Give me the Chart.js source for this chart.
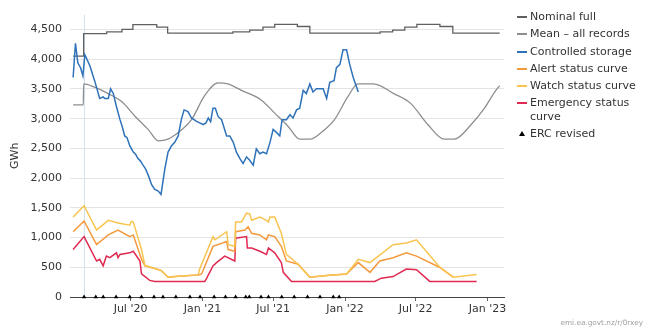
<!DOCTYPE html>
<html><head><meta charset="utf-8">
<script src="https://cdn.jsdelivr.net/npm/chart.js@4.4.1/dist/chart.umd.min.js"></script>
<style>
html,body{margin:0;padding:0;background:#fff;}
#wrap{position:relative;width:650px;height:327px;font-family:"DejaVu Sans",sans-serif;overflow:hidden;}
#c{position:absolute;left:0;top:0;}
#legend{position:absolute;left:517px;top:10px;width:130px;font-size:11px;line-height:13.4px;color:#333;}
.item{display:flex;align-items:flex-start;margin-bottom:3.9px;}
.mk{width:10px;flex:none;height:13.4px;position:relative;margin-right:3px;}
.mk span{position:absolute;left:0;right:0;top:6px;height:2px;}
.mk .tri{left:2px;right:auto;top:4px;height:0;width:0;border-left:3px solid transparent;border-right:3px solid transparent;border-bottom:5px solid #000;}
#src{position:absolute;right:7px;top:318px;font-size:7.3px;color:#a0a0a0;}
</style></head>
<body>
<div id="wrap">
<canvas id="c" width="650" height="327"></canvas>
<div id="legend"></div>
<div id="src">emi.ea.govt.nz/r/0rxey</div>
</div>
<script>
// ---- axis ----
const xMin = '2020-01-28';
const xMax = '2023-02-12';
const tickDates = ['2020-07-01','2021-01-01','2021-07-01','2022-01-01','2022-07-01','2023-01-01'];
const tickLabels = ["Jul '20","Jan '21","Jul '21","Jan '22","Jul '22","Jan '23"];
const yTicks = [0,500,1000,1500,2000,2500,3000,3500,4000,4500];
const plotLineDate = '2020-03-03';

// ---- Nominal full ----
const nominalDates = ['2020-02-05','2020-03-03','2020-05-01','2020-06-09','2020-07-07','2020-09-06','2020-10-04','2021-03-20','2021-05-02','2021-06-05','2021-07-05','2021-09-01','2021-10-03','2022-04-01','2022-05-03','2022-06-03','2022-07-04','2022-09-01','2022-10-04','2023-02-01'];
const nominalGWh = [4050,4430,4460,4500,4580,4540,4440,4460,4490,4540,4585,4550,4440,4460,4490,4540,4585,4550,4440,4440];

// ---- Mean - all records ----
const meanDates = ['2020-02-05','2020-03-02','2020-03-03','2020-03-31','2020-05-05','2020-06-09','2020-07-13','2020-08-15','2020-09-10','2020-10-05','2020-10-31','2020-12-04','2021-01-07','2021-02-10','2021-03-07','2021-04-11','2021-06-01','2021-07-05','2021-08-08','2021-09-07','2021-10-04','2021-11-01','2021-12-05','2022-01-08','2022-02-03','2022-03-15','2022-05-06','2022-06-18','2022-08-01','2022-09-12','2022-10-08','2022-11-20','2022-12-24','2023-01-19','2023-02-01'];
const meanGWh = [3230,3230,3584,3529,3420,3283,3037,2819,2627,2655,2765,2983,3390,3600,3584,3475,3311,3093,2873,2655,2655,2765,2983,3365,3584,3584,3420,3257,2901,2655,2655,2901,3175,3447,3557];

// ---- Controlled storage ----
const storageDates = ['2020-02-05','2020-02-11','2020-02-17','2020-02-24','2020-03-01','2020-03-06','2020-03-10','2020-03-19','2020-03-31','2020-04-13','2020-04-22','2020-04-26','2020-05-05','2020-05-11','2020-05-18','2020-05-26','2020-06-04','2020-06-10','2020-06-16','2020-06-22','2020-06-29','2020-07-08','2020-07-14','2020-07-20','2020-07-26','2020-08-02','2020-08-08','2020-08-15','2020-08-24','2020-09-01','2020-09-10','2020-09-17','2020-09-22','2020-09-27','2020-10-05','2020-10-14','2020-10-22','2020-10-31','2020-11-08','2020-11-15','2020-11-25','2020-12-04','2020-12-17','2020-12-25','2021-01-03','2021-01-10','2021-01-16','2021-01-22','2021-01-28','2021-02-03','2021-02-10','2021-02-19','2021-03-04','2021-03-12','2021-03-21','2021-03-29','2021-04-07','2021-04-15','2021-04-24','2021-05-02','2021-05-11','2021-05-19','2021-05-28','2021-06-05','2021-06-14','2021-06-23','2021-07-01','2021-07-10','2021-07-18','2021-07-24','2021-08-04','2021-08-13','2021-08-21','2021-08-30','2021-09-07','2021-09-16','2021-09-24','2021-10-03','2021-10-11','2021-10-20','2021-10-28','2021-11-06','2021-11-15','2021-11-23','2021-12-04','2021-12-10','2021-12-19','2021-12-27','2022-01-05','2022-01-13','2022-01-22','2022-02-04'];
const storageGWh = [3693,4267,3939,3857,3721,4076,4021,3885,3639,3339,3366,3339,3339,3502,3420,3201,2983,2860,2709,2680,2545,2437,2400,2327,2290,2218,2160,2054,1890,1808,1781,1726,1945,2163,2437,2545,2601,2709,2983,3147,3119,3011,2955,2929,2901,2929,3011,2950,3175,3175,3037,2983,2709,2709,2601,2437,2327,2245,2355,2300,2218,2491,2409,2437,2409,2601,2819,2765,2709,2983,2983,3065,3011,3147,3175,3475,3421,3584,3447,3502,3502,3502,3339,3611,3639,3857,3912,4158,4158,3912,3693,3447];

// ---- Alert status curve ----
const alertDates = ['2020-02-05','2020-03-04','2020-04-05','2020-05-05','2020-05-30','2020-06-29','2020-07-08','2020-07-29','2020-08-07','2020-09-01','2020-09-18','2020-10-05','2020-10-31','2020-12-21','2020-12-30','2021-01-28','2021-03-04','2021-03-08','2021-03-25','2021-03-27','2021-04-20','2021-04-28','2021-05-07','2021-05-28','2021-06-14','2021-06-19','2021-07-05','2021-07-22','2021-08-04','2021-09-03','2021-10-03','2021-11-15','2022-01-05','2022-02-04','2022-03-06','2022-03-31','2022-05-04','2022-06-07','2022-07-03','2022-09-01','2022-10-05'];
const alertGWh = [1098,1278,880,1044,1126,1016,1044,634,524,480,443,333,349,372,388,852,934,798,770,1098,1126,1180,1071,1044,962,1044,1016,852,606,552,333,361,388,579,415,606,661,743,688,497,333];

// ---- Watch status curve ----
const watchDates = ['2020-02-05','2020-03-04','2020-04-05','2020-05-05','2020-05-30','2020-06-29','2020-07-03','2020-07-08','2020-07-29','2020-08-07','2020-09-01','2020-09-18','2020-10-05','2020-10-31','2020-12-21','2020-12-25','2021-01-28','2021-02-02','2021-03-04','2021-03-08','2021-03-25','2021-03-27','2021-04-11','2021-04-24','2021-05-02','2021-05-07','2021-05-28','2021-06-14','2021-06-19','2021-06-23','2021-07-05','2021-07-22','2021-08-04','2021-09-03','2021-10-03','2021-11-15','2022-01-05','2022-02-04','2022-03-06','2022-05-04','2022-06-07','2022-07-03','2022-09-01','2022-10-05','2022-12-04'];
const watchGWh = [1344,1536,1126,1290,1246,1208,1273,1262,798,524,480,443,333,349,372,470,1016,962,1098,880,852,1262,1262,1410,1398,1290,1344,1290,1262,1344,1344,1071,716,552,333,361,388,634,579,880,907,962,497,333,377];

// ---- Emergency status curve ----
const emergencyDates = ['2020-02-05','2020-03-04','2020-04-05','2020-04-13','2020-04-22','2020-04-30','2020-05-09','2020-05-26','2020-05-30','2020-06-04','2020-06-29','2020-07-08','2020-07-25','2020-07-29','2020-08-19','2020-09-01','2021-01-07','2021-01-11','2021-01-28','2021-02-06','2021-02-27','2021-03-25','2021-03-27','2021-04-24','2021-04-26','2021-05-07','2021-05-28','2021-06-14','2021-06-19','2021-07-05','2021-07-22','2021-07-27','2021-08-17','2022-03-18','2022-04-04','2022-05-04','2022-06-07','2022-07-03','2022-08-06','2022-12-04'];
const emergencyGWh = [798,1016,606,634,524,688,661,743,661,716,743,770,606,388,279,262,262,306,524,579,688,606,989,1016,825,825,770,716,825,743,579,415,262,262,317,344,470,459,262,262];

// ---- ERC revised ----
const ercDates = ['2020-03-04','2020-04-03','2020-04-22','2020-05-25','2020-06-29','2020-07-29','2020-08-30','2020-09-22','2020-10-25','2020-11-30','2020-12-26','2021-01-31','2021-03-01','2021-03-27','2021-04-22','2021-05-01','2021-05-31','2021-06-19','2021-07-23','2021-08-24','2021-09-27','2021-10-29','2021-12-02','2021-12-17'];
const ercGWh = ercDates.map(() => 0);

const toX = d => Date.parse(d);
const pts = (dates, vals) => dates.map((d, i) => ({x: toX(d), y: vals[i]}));

const lineBase = {type: 'line', pointRadius: 0, pointHoverRadius: 0, borderWidth: 1.5, fill: false, tension: 0};
const datasets = [
  Object.assign({}, lineBase, {label: 'Nominal full', data: pts(nominalDates, nominalGWh), borderColor: '#606060', stepped: true, borderWidth: 1.3, order: 5}),
  Object.assign({}, lineBase, {label: 'Mean \u2013 all records', data: pts(meanDates, meanGWh), borderColor: '#8e8e8e', cubicInterpolationMode: 'monotone', borderWidth: 1.3, order: 6}),
  Object.assign({}, lineBase, {label: 'Controlled storage', data: pts(storageDates, storageGWh), borderColor: '#2e72b9', order: 1}),
  Object.assign({}, lineBase, {label: 'Alert status curve', data: pts(alertDates, alertGWh), borderColor: '#f49a3e', order: 3}),
  Object.assign({}, lineBase, {label: 'Watch status curve', data: pts(watchDates, watchGWh), borderColor: '#f8c450', order: 2}),
  Object.assign({}, lineBase, {label: 'Emergency status curve', data: pts(emergencyDates, emergencyGWh), borderColor: '#e02a52', order: 4}),
  {type: 'line', label: 'ERC revised', data: pts(ercDates, ercGWh), showLine: false, pointStyle: 'triangle', pointRadius: 2.6, pointHoverRadius: 2.6, backgroundColor: '#000', borderColor: '#000', borderWidth: 0, clip: false, order: 0}
];

const plotLine = {
  id: 'plotLine',
  beforeDatasetsDraw(chart) {
    const {ctx, chartArea: a, scales: {x}} = chart;
    const px = Math.round(x.getPixelForValue(toX(plotLineDate))) + 0.5;
    ctx.save();
    ctx.strokeStyle = '#d3e2f0';
    ctx.lineWidth = 1;
    ctx.beginPath();
    ctx.moveTo(px, a.top);
    ctx.lineTo(px, a.bottom);
    ctx.stroke();
    ctx.restore();
  }
};

Chart.defaults.font.family = '"DejaVu Sans", sans-serif';
Chart.defaults.font.size = 11;
Chart.defaults.color = '#333';

const chart = new Chart(document.getElementById('c'), {
  type: 'line',
  data: {datasets},
  options: {
    responsive: false,
    animation: false,
    events: [],
    layout: {padding: {left: 0, right: 146, top: 7, bottom: 0}},
    plugins: {legend: {display: false}, tooltip: {enabled: false}},
    scales: {
      x: {
        type: 'linear', min: toX(xMin), max: toX(xMax),
        afterBuildTicks: s => { s.ticks = tickDates.map(d => ({value: toX(d)})); },
        afterFit: s => { s.height = 30; },
        grid: {drawOnChartArea: false, drawTicks: true, tickLength: 4, color: '#666'},
        border: {display: true, color: '#444'},
        ticks: {padding: 2, color: '#333', maxRotation: 0, autoSkip: false, callback: (v, i) => tickLabels[i]}
      },
      y: {
        min: 0, max: 4750,
        afterBuildTicks: s => { s.ticks = yTicks.map(v => ({value: v})); },
        afterFit: s => { s.width = 70; },
        grid: {color: '#e4e4e4', drawTicks: false},
        border: {display: false},
        ticks: {padding: 8, color: '#333', callback: v => v.toLocaleString('en-US')},
        title: {display: true, text: 'GWh', color: '#333', padding: {top: 9, bottom: 0}}
      }
    }
  },
  plugins: [plotLine]
});

// HTML legend built from the datasets
const leg = document.getElementById('legend');
datasets.forEach(ds => {
  const it = document.createElement('div');
  it.className = 'item';
  const mk = document.createElement('div');
  mk.className = 'mk';
  const s = document.createElement('span');
  if (ds.pointStyle === 'triangle') { s.className = 'tri'; }
  else { s.style.background = ds.borderColor; }
  mk.appendChild(s);
  const t = document.createElement('div');
  t.textContent = ds.label;
  it.appendChild(mk); it.appendChild(t);
  leg.appendChild(it);
});
</script>
</body></html>
